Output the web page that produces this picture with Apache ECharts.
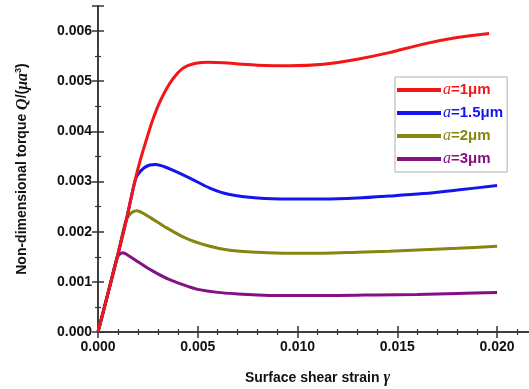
<!DOCTYPE html>
<html>
<head>
<meta charset="utf-8">
<script src="https://cdn.jsdelivr.net/npm/echarts@6/dist/echarts.min.js"></script>
<style>
  html, body { margin: 0; padding: 0; background: #fff; }
  #chart { width: 529px; height: 389px; }
</style>
</head>
<body>
<div id="chart"></div>
<script>
// Torque vs. surface shear strain for four sizes a
const seriesNames = ['a=1μm', 'a=1.5μm', 'a=2μm', 'a=3μm'];
const seriesColors = ['#f21616', '#1414f0', '#858510', '#850f85'];

const xA1 = [0, 0.0005, 0.001, 0.0014, 0.00185, 0.0021, 0.0024, 0.0027, 0.003, 0.0033, 0.0036, 0.0039, 0.0042, 0.0045, 0.0049, 0.0055, 0.0063, 0.0072, 0.008, 0.0096, 0.0113, 0.013, 0.0146, 0.0163, 0.018, 0.0196];
const yA1 = [0, 0.00077, 0.00155, 0.0022, 0.00301, 0.0034, 0.0038, 0.00418, 0.0045, 0.00475, 0.00496, 0.00512, 0.00524, 0.00531, 0.00536, 0.00538, 0.00537, 0.00534, 0.00532, 0.00531, 0.00534, 0.00544, 0.00557, 0.00574, 0.00587, 0.00595];

const xA15 = [0, 0.0005, 0.001, 0.0014, 0.00185, 0.002, 0.0023, 0.0026, 0.0029, 0.0033, 0.0038, 0.0046, 0.0056, 0.0066, 0.008, 0.0096, 0.0113, 0.013, 0.0146, 0.0163, 0.018, 0.02];
const yA15 = [0, 0.00077, 0.00155, 0.0022, 0.00301, 0.00314, 0.00327, 0.00333, 0.00334, 0.0033, 0.00322, 0.00307, 0.00287, 0.00274, 0.00267, 0.00265, 0.00265, 0.00267, 0.00271, 0.00276, 0.00283, 0.00292];

const xA2 = [0, 0.0005, 0.001, 0.00139, 0.00165, 0.00194, 0.0025, 0.0033, 0.0044, 0.0055, 0.0066, 0.008, 0.0096, 0.0113, 0.013, 0.0146, 0.0163, 0.018, 0.02];
const yA2 = [0, 0.00077, 0.00155, 0.00221, 0.00237, 0.00242, 0.00231, 0.00211, 0.00187, 0.00172, 0.00163, 0.00159, 0.00157, 0.00157, 0.00159, 0.00161, 0.00164, 0.00167, 0.00171];

const xA3 = [0, 0.0005, 0.00095, 0.00108, 0.00125, 0.0015, 0.002, 0.0025, 0.003, 0.0035, 0.004, 0.0045, 0.005, 0.006, 0.007, 0.008, 0.009, 0.01, 0.012, 0.014, 0.016, 0.018, 0.02];
const yA3 = [0, 0.00077, 0.00148, 0.00155, 0.00158, 0.00153, 0.0014, 0.00127, 0.00116, 0.00106, 0.00098, 0.00091, 0.00085, 0.00079, 0.00076, 0.00074, 0.00073, 0.00073, 0.00073, 0.00074, 0.00075, 0.00077, 0.00079];

const xTicks = { min: 0, max: 0.022, interval: 0.005 };
const yTicks = { min: 0, max: 0.0065, interval: 0.001 };

const xs = [xA1, xA15, xA2, xA3];
const ys = [yA1, yA15, yA2, yA3];

const FONT = '"Liberation Sans", Arial, sans-serif';
const AXIS_COLOR = '#333';

function pairs(x, y) { return x.map((v, i) => [v, y[i]]); }

const series = seriesNames.map((name, k) => ({
  name: name,
  type: 'line',
  data: pairs(xs[k], ys[k]),
  smooth: 0.3,
  showSymbol: false,
  lineStyle: { color: seriesColors[k], width: 3 },
  itemStyle: { color: seriesColors[k] },
  z: 10 - k
}));

function legendLabel(name) {
  return '{i|a}' + name.slice(1);
}

const baseAxis = {
  axisLine: { show: true, lineStyle: { color: AXIS_COLOR, width: 1.5 } },
  axisTick: { show: true, inside: true, length: 6, lineStyle: { color: AXIS_COLOR, width: 1.5 } },
  minorTick: { show: true, length: 3, lineStyle: { color: AXIS_COLOR, width: 1.2 } },
  splitLine: { show: false },
};

const chart = echarts.init(document.getElementById('chart'), null, { renderer: 'canvas' });
chart.setOption({
  animation: false,
  backgroundColor: '#fff',
  grid: { left: 98, right: -8, top: 6, bottom: 57, containLabel: false, outerBoundsMode: 'none' },
  legend: {
    orient: 'vertical',
    left: 395,
    top: 77,
    padding: [5, 4, 5, 2],
    itemGap: 7,
    itemWidth: 44,
    itemHeight: 4,
    icon: 'rect',
    borderColor: '#b0b0b0',
    borderWidth: 1,
    backgroundColor: '#fff',
    data: seriesNames.map((n, k) => ({
      name: n,
      textStyle: {
        color: seriesColors[k],
        rich: { i: { color: seriesColors[k], fontStyle: 'italic', fontWeight: 'normal', fontFamily: '"Liberation Serif", serif', fontSize: 16 } }
      }
    })),
    formatter: legendLabel,
    textStyle: { fontFamily: FONT, fontWeight: 'bold', fontSize: 15, lineHeight: 16, padding: [0, 0, 0, -3] }
  },
  xAxis: [
    Object.assign({}, baseAxis, {
      type: 'value',
      min: xTicks.min, max: xTicks.max, interval: xTicks.interval,
      minorTick: Object.assign({}, baseAxis.minorTick, { splitNumber: 5 }),
      axisLabel: {
        color: '#111', fontFamily: FONT, fontWeight: 'bold', fontSize: 14, margin: 8,
        showMaxLabel: false,
        formatter: v => v.toFixed(3)
      },
      name: 'Surface shear strain {g|γ}',
      nameLocation: 'middle',
      nameGap: 38,
      nameTextStyle: {
        color: '#111', fontFamily: FONT, fontWeight: 'bold', fontSize: 14,
        rich: { g: { fontFamily: '"Liberation Serif", serif', fontStyle: 'italic', fontSize: 16, color: '#111' } }
      }
    }),
    Object.assign({}, baseAxis, {
      type: 'value', position: 'top',
      min: xTicks.min, max: xTicks.max, interval: xTicks.interval,
      minorTick: Object.assign({}, baseAxis.minorTick, { splitNumber: 5 }),
      axisLabel: { show: false }
    })
  ],
  yAxis: [
    Object.assign({}, baseAxis, {
      type: 'value',
      min: yTicks.min, max: yTicks.max, interval: yTicks.interval,
      minorTick: Object.assign({}, baseAxis.minorTick, { splitNumber: 2 }),
      axisLabel: {
        color: '#111', fontFamily: FONT, fontWeight: 'bold', fontSize: 14, margin: 6,
        showMaxLabel: false,
        formatter: v => v.toFixed(3)
      },
      name: 'Non-dimensional torque {q|Q}/({q|μa}{s|3})',
      nameLocation: 'middle',
      nameGap: 67,
      nameTextStyle: {
        color: '#111', fontFamily: FONT, fontWeight: 'bold', fontSize: 14,
        rich: {
          q: { fontFamily: '"Liberation Serif", serif', fontStyle: 'italic', fontSize: 16, color: '#111' },
          s: { fontFamily: FONT, fontSize: 9, fontWeight: 'bold', color: '#111', verticalAlign: 'top', padding: [0, 0, 8, 0] }
        }
      }
    }),
    Object.assign({}, baseAxis, {
      type: 'value', position: 'right',
      min: yTicks.min, max: yTicks.max, interval: yTicks.interval,
      minorTick: Object.assign({}, baseAxis.minorTick, { splitNumber: 2 }),
      axisLabel: { show: false }
    })
  ],
  series: series
});
</script>
</body>
</html>
